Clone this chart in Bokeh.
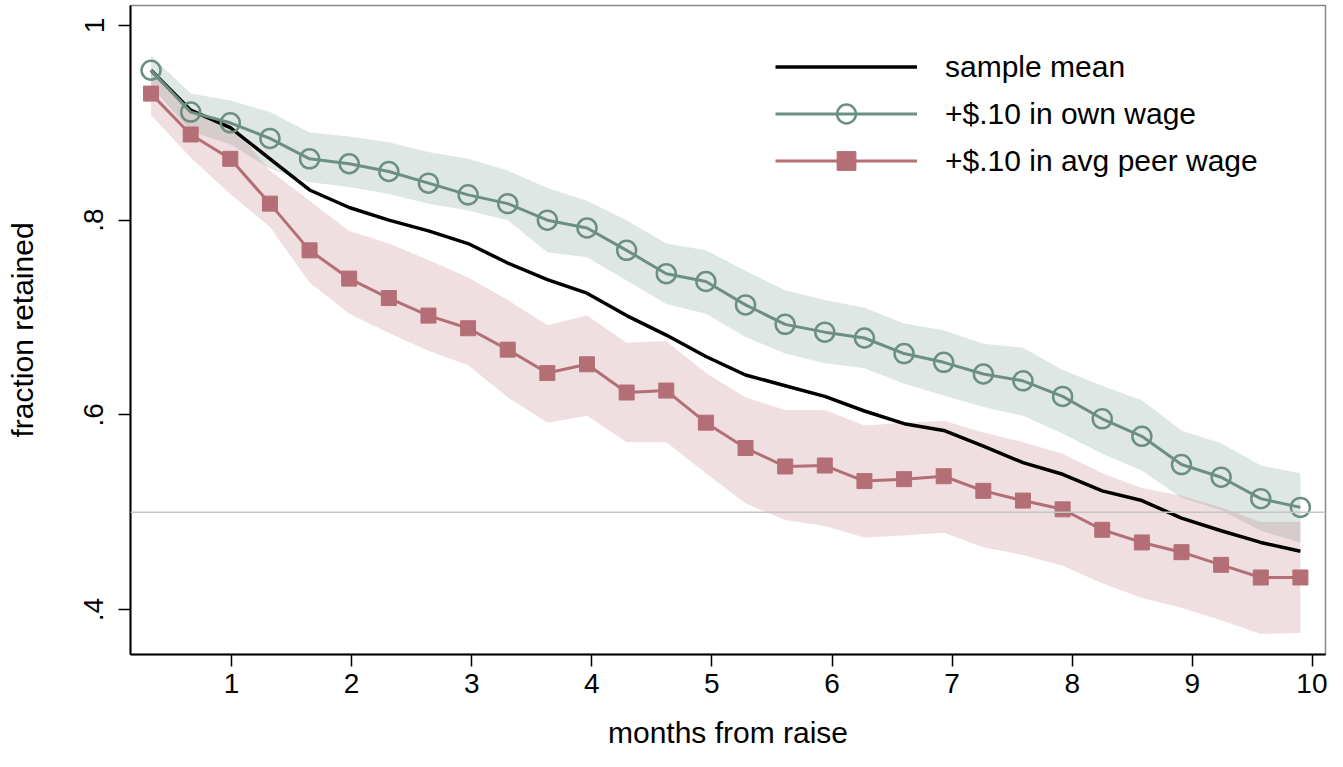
from bokeh.plotting import figure
from bokeh.models import Range1d, FixedTicker, Span, Legend, LegendItem
from bokeh.embed import file_html
from bokeh.resources import INLINE

# ---- data ----
months = [0.33, 0.66, 0.99, 1.32, 1.65, 1.98, 2.31, 2.64, 2.97, 3.3,
          3.63, 3.96, 4.29, 4.62, 4.95, 5.28, 5.61, 5.94, 6.27, 6.6,
          6.93, 7.26, 7.59, 7.92, 8.25, 8.58, 8.91, 9.24, 9.57, 9.9]

sample_mean = [0.954, 0.913, 0.895, 0.863, 0.831, 0.813, 0.800, 0.789, 0.776, 0.756,
               0.739, 0.725, 0.702, 0.682, 0.660, 0.641, 0.630, 0.619, 0.604, 0.591,
               0.584, 0.568, 0.551, 0.539, 0.522, 0.512, 0.494, 0.481, 0.469, 0.460]

own_wage = [0.954, 0.911, 0.900, 0.884, 0.863, 0.858, 0.850, 0.838, 0.826, 0.817,
            0.800, 0.792, 0.769, 0.745, 0.737, 0.713, 0.693, 0.685, 0.679, 0.663,
            0.654, 0.642, 0.635, 0.619, 0.596, 0.578, 0.549, 0.536, 0.514, 0.505]
own_lo = [0.938, 0.891, 0.878, 0.853, 0.839, 0.834, 0.827, 0.817, 0.810, 0.800,
          0.767, 0.762, 0.738, 0.714, 0.704, 0.680, 0.663, 0.653, 0.648, 0.632,
          0.620, 0.608, 0.599, 0.581, 0.560, 0.543, 0.515, 0.502, 0.481, 0.469]
own_hi = [0.969, 0.930, 0.923, 0.911, 0.890, 0.886, 0.880, 0.870, 0.863, 0.851,
          0.833, 0.820, 0.800, 0.776, 0.769, 0.748, 0.728, 0.718, 0.710, 0.694,
          0.687, 0.673, 0.669, 0.646, 0.630, 0.615, 0.584, 0.571, 0.548, 0.540]

peer_wage = [0.930, 0.888, 0.863, 0.817, 0.769, 0.740, 0.720, 0.702, 0.689, 0.667,
             0.643, 0.652, 0.623, 0.625, 0.592, 0.566, 0.547, 0.548, 0.532, 0.534,
             0.537, 0.522, 0.512, 0.503, 0.482, 0.469, 0.459, 0.446, 0.433, 0.433]
peer_lo = [0.908, 0.864, 0.827, 0.793, 0.736, 0.704, 0.684, 0.666, 0.651, 0.618,
           0.592, 0.599, 0.572, 0.572, 0.540, 0.509, 0.492, 0.486, 0.474, 0.476,
           0.479, 0.464, 0.456, 0.445, 0.427, 0.412, 0.402, 0.389, 0.375, 0.376]
peer_hi = [0.953, 0.912, 0.899, 0.851, 0.820, 0.789, 0.776, 0.759, 0.741, 0.718,
           0.692, 0.702, 0.674, 0.676, 0.643, 0.618, 0.605, 0.605, 0.589, 0.592,
           0.594, 0.582, 0.572, 0.560, 0.540, 0.525, 0.517, 0.505, 0.490, 0.490]

x_ticks = [1, 2, 3, 4, 5, 6, 7, 8, 9, 10]
y_ticks = [0.4, 0.6, 0.8, 1.0]
y_tick_labels = [".4", ".6", ".8", "1"]
series_names = ["sample mean", "+$.10 in own wage", "+$.10 in avg peer wage"]
reference_level = 0.5

# ---- style ----
FONT = "Liberation Sans"
GREEN = "#6b9081"
RED = "#b46f76"

p = figure(width=1327, height=751, output_backend="svg", toolbar_location=None,
           x_range=Range1d(0.159, 10.109), y_range=Range1d(0.3539, 1.0205),
           min_border_left=130, min_border_right=2, min_border_top=5,
           min_border_bottom=97)
p.background_fill_color = "white"
p.border_fill_color = "white"
p.outline_line_color = "#888888"
p.outline_line_width = 1.5
p.xgrid.visible = False
p.ygrid.visible = False

# bands
p.varea(x=months, y1=own_lo, y2=own_hi, fill_color=GREEN, fill_alpha=0.22)
p.varea(x=months, y1=peer_lo, y2=peer_hi, fill_color=RED, fill_alpha=0.22)

p.add_layout(Span(location=reference_level, dimension="width",
                  line_color="#c4c4c4", line_width=1.5))

r_mean = p.line(months, sample_mean, line_color="black", line_width=3.5)
r_peer_l = p.line(months, peer_wage, line_color=RED, line_width=3)
r_peer_m = p.scatter(months, peer_wage, marker="square", size=15,
                     fill_color=RED, line_color=RED)
r_own_l = p.line(months, own_wage, line_color=GREEN, line_width=3)
r_own_m = p.scatter(months, own_wage, marker="circle", size=19,
                    fill_color=None, line_color=GREEN, line_width=2.5)

legend = Legend(items=[
    LegendItem(label=series_names[0], renderers=[r_mean]),
    LegendItem(label=series_names[1], renderers=[r_own_l, r_own_m]),
    LegendItem(label=series_names[2], renderers=[r_peer_l, r_peer_m]),
], location="top_right")
legend.margin = 28
legend.padding = 10
legend.spacing = 0
legend.glyph_width = 142
legend.glyph_height = 47
legend.label_height = 47
legend.label_width = 342
legend.label_standoff = 28
legend.label_text_font = FONT
legend.label_text_font_size = "30px"
legend.label_text_color = "black"
legend.border_line_alpha = 0
legend.background_fill_alpha = 0
p.add_layout(legend)

# axes
for ax in (p.xaxis[0], p.yaxis[0]):
    ax.axis_line_color = "black"
    ax.axis_line_width = 2
    ax.major_tick_line_color = "black"
    ax.major_tick_line_width = 1.5
    ax.major_tick_out = 12
    ax.major_tick_in = 0
    ax.minor_tick_line_color = None
    ax.major_label_text_font = FONT
    ax.major_label_text_font_size = "28px"
    ax.major_label_text_color = "black"
    ax.axis_label_text_font = FONT
    ax.axis_label_text_font_size = "30px"
    ax.axis_label_text_font_style = "normal"
    ax.axis_label_text_color = "black"

p.xaxis.ticker = FixedTicker(ticks=x_ticks)
p.xaxis.axis_label = "months from raise"
p.xaxis.major_label_standoff = 7
p.xaxis.axis_label_standoff = 20

p.yaxis.ticker = FixedTicker(ticks=y_ticks)
p.yaxis.major_label_overrides = {t: s for t, s in zip(y_ticks, y_tick_labels)}
p.yaxis.major_label_orientation = "vertical"
p.yaxis.axis_label = "fraction retained"
p.yaxis.major_label_standoff = 15
p.yaxis.axis_label_standoff = 43

open("out.html", "w").write(file_html(p, INLINE))
